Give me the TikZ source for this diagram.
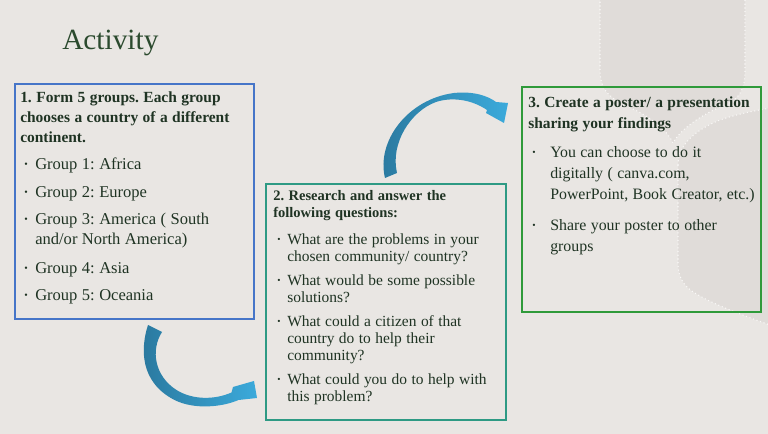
\documentclass[tikz,border=0pt]{standalone}
\usepackage{fontspec}
\setmainfont{Liberation Serif}

\definecolor{slidebg}{HTML}{E9E6E3}
\definecolor{leafbg}{HTML}{E0DCD9}
\definecolor{titlegreen}{HTML}{2B4A2E}
\definecolor{textgreen}{HTML}{1F3323}
\definecolor{frameblue}{HTML}{4675C8}
\definecolor{frameteal}{HTML}{2E9A84}
\definecolor{framegreen}{HTML}{2F9A3A}
\definecolor{arrowdark}{HTML}{2A789E}
\definecolor{arrowlight}{HTML}{3BAADB}

% bullet item with hanging indent (lines broken with \newline)
\newlength{\bulhang}
\newcommand{\bul}[2][5pt]{\par\vspace{#1}\hangindent=\bulhang\hangafter=1\noindent
  \makebox[\bulhang][l]{\hspace{3pt}\raisebox{.3ex}{\scalebox{.6}{\textbullet}}}#2}

\tikzset{
  stepframe/.style={draw, line width=1.5pt, anchor=north west, inner sep=0pt},
  steptext/.style={anchor=north west, align=left, text width=176pt, inner sep=0pt, text=textgreen},
  bluearrow/.style={left color=arrowdark, right color=arrowlight},
  leaf/.style={fill=leafbg, draw=white!75!slidebg, dotted, line width=0.8pt},
}

\begin{document}
\begin{tikzpicture}[x=0.75pt,y=-0.75pt]
\fill[slidebg] (0,0) rectangle (768,434);
\useasboundingbox (0,0) rectangle (768,434);

% leaves in the background
\filldraw[leaf] (600,-2) -- (600,70) .. controls (600,95) and (615,100) .. (635,110)
  .. controls (655,120) and (668,132) .. (673,143)
  .. controls (680,130) and (700,115) .. (725,105)
  .. controls (740,98) and (745,90) .. (745,70) -- (745,-2) -- cycle;
\filldraw[leaf] (678,165) .. controls (678,142) and (700,128) .. (720,120)
  .. controls (740,113) and (760,110) .. (770,108) -- (770,325)
  .. controls (750,318) and (715,305) .. (700,296)
  .. controls (685,288) and (678,280) .. (678,262) -- cycle;

\node[anchor=base west, inner sep=0pt, text=titlegreen, font=\fontsize{22}{26}\selectfont] (title) at (62,50) {Activity};

\node[stepframe, draw=frameblue, minimum width=179.25pt, minimum height=176.25pt] (groups) at (14,83) {};
\node[stepframe, draw=frameteal, minimum width=180pt, minimum height=177pt] (research) at (265,183) {};
\node[stepframe, draw=framegreen, minimum width=179.25pt, minimum height=168.75pt] (poster) at (521,86) {};

\node[steptext] (groupstext) at ([xshift=4.5pt,yshift=-6.5pt]groups.north west) {%
  \frenchspacing\setlength{\bulhang}{11.25pt}%
  {\fontsize{11.6}{15}\selectfont\textbf{1. Form 5 groups. Each group\\chooses a country of a different\\continent.}}%
  \fontsize{12.4}{15}\selectfont
  \bul[5.5pt]{Group 1: Africa}
  \bul[5.5pt]{Group 2: Europe}
  \bul[5.5pt]{Group 3: America ( South\newline and/or North America)}
  \bul[6.5pt]{Group 4: Asia}
  \bul[5.5pt]{Group 5: Oceania}\par};

\node[steptext] (researchtext) at ([xshift=6pt,yshift=-5.5pt]research.north west) {%
  \frenchspacing\setlength{\bulhang}{10.5pt}%
  {\fontsize{10.9}{13.5}\selectfont\textbf{2. Research and answer the\\following questions:}}%
  \fontsize{11.6}{12.75}\selectfont
  \bul[7.25pt]{What are the problems in your\newline chosen community/ country?}
  \bul[5.25pt]{What would be some possible\newline solutions?}
  \bul[5.5pt]{What could a citizen of that\newline country do to help their\newline community?}
  \bul[5.25pt]{What could you do to help with\newline this problem?}\par};

\node[steptext] (postertext) at ([xshift=5.25pt,yshift=-8pt]poster.north west) {%
  \frenchspacing\setlength{\bulhang}{16.5pt}%
  {\fontsize{11.6}{14.25}\selectfont\textbf{3. Create a poster/ a presentation\\sharing your findings}}%
  \fontsize{11.9}{15.75}\selectfont
  \bul[6pt]{You can choose to do it\newline digitally ( canva.com,\newline PowerPoint, Book Creator, etc.)}
  \bul[7.5pt]{Share your poster to other\newline groups}\par};

% curved arrow from step 1 to step 2
\begin{scope}[shift={(groups.south)}]
\shade[bluearrow] (13.5,5) .. controls (6,28) and (5,62) .. (40,80)
  .. controls (60,90) and (88,87) .. (104,80) -- (122.5,78) -- (119.5,61) -- (98.5,67)
  -- (97,72.5) .. controls (80,80) and (58,80) .. (42,70)
  .. controls (20,56) and (16,30) .. (27.5,12) -- cycle;
\end{scope}

% curved arrow from step 2 to step 3
\begin{scope}[shift={(research.north)}]
\shade[bluearrow] (-1,-5) .. controls (-10,-42) and (22,-84) .. (68,-90)
  .. controls (88,-92) and (102,-87) .. (110,-81) -- (122,-80) -- (118,-60) -- (100,-70)
  -- (101,-73) .. controls (85,-84) and (65,-86) .. (50,-81)
  .. controls (25,-72) and (4,-40) .. (11,-10) -- cycle;
\end{scope}
\end{tikzpicture}
\end{document}
